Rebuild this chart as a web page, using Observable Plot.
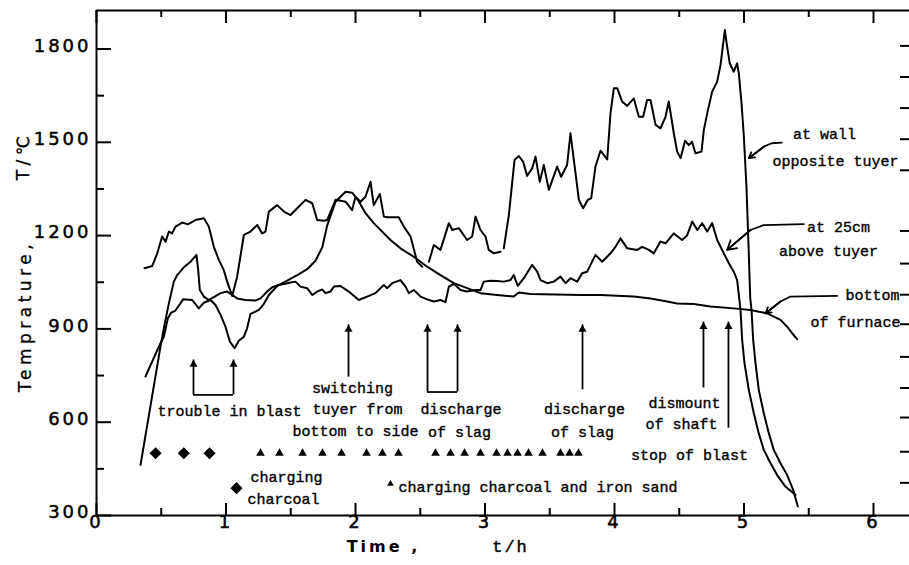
<!DOCTYPE html>
<html><head><meta charset="utf-8">
<script src="https://cdn.jsdelivr.net/npm/d3@7"></script>
<script src="https://cdn.jsdelivr.net/npm/@observablehq/plot@0.6"></script>
<style>
body{margin:0;background:#fff;}
svg{display:block}
</style>
</head><body><div id="chart"></div>
<script>
// Time (h), Temperature (°C)
const wallSeries = [[0.371,1095],[0.430,1102],[0.469,1143],[0.507,1197],[0.533,1180],[0.559,1213],[0.584,1207],[0.610,1229],[0.662,1242],[0.705,1236],[0.764,1250],[0.829,1256],[0.867,1229],[0.906,1164],[0.945,1122],[0.983,1089],[1.009,1052],[1.048,1006],[1.086,1068],[1.138,1202],[1.189,1213],[1.241,1234],[1.279,1207],[1.305,1213],[1.331,1277],[1.395,1298],[1.447,1277],[1.498,1266],[1.550,1288],[1.614,1315],[1.666,1304],[1.704,1250],[1.755,1248],[1.781,1250],[1.846,1315],[1.923,1309],[1.974,1282],[2.000,1325],[2.039,1309],[2.077,1325],[2.116,1373],[2.141,1298],[2.188,1334],[2.219,1261],[2.245,1259],[2.334,1259],[2.373,1229],[2.425,1197],[2.476,1116],[2.515,1100],[2.541,NaN],[2.567,1116],[2.605,1170],[2.656,1154],[2.721,1240],[2.747,1218],[2.798,1224],[2.862,1186],[2.901,1197],[2.927,1261],[2.965,1218],[3.004,1197],[3.029,1154],[3.068,1143],[3.120,1148],[3.132,NaN],[3.145,1159],[3.184,1266],[3.228,1443],[3.261,1456],[3.294,1438],[3.325,1392],[3.364,1416],[3.390,1454],[3.423,1373],[3.454,1427],[3.493,1347],[3.557,1422],[3.588,1389],[3.634,1427],[3.660,1529],[3.725,1315],[3.758,1288],[3.794,1315],[3.820,1320],[3.853,1422],[3.892,1473],[3.944,1445],[3.969,1593],[3.995,1674],[4.021,1674],[4.059,1631],[4.098,1617],[4.149,1641],[4.188,1582],[4.221,1582],[4.252,1636],[4.278,1636],[4.317,1556],[4.355,1545],[4.394,1582],[4.419,1631],[4.458,1529],[4.484,1470],[4.510,1449],[4.545,1505],[4.574,1491],[4.599,1502],[4.625,1465],[4.672,1470],[4.690,1540],[4.716,1593],[4.754,1663],[4.793,1695],[4.819,1749],[4.852,1861],[4.870,1807],[4.890,1754],[4.921,1727],[4.947,1754],[4.960,1722],[4.981,1625],[4.999,1518],[5.019,1357],[5.037,1143],[5.048,1000],[5.058,961],[5.071,864],[5.089,789],[5.114,704],[5.153,629],[5.192,564],[5.230,511],[5.282,468],[5.333,430],[5.380,382],[5.416,329]];

const tuyer25Series = [[0.340,463],[0.497,850],[0.525,913],[0.559,982],[0.597,1052],[0.623,1073],[0.674,1098],[0.726,1116],[0.772,1138],[0.785,1090],[0.798,1025],[0.829,1004],[0.867,993],[0.906,1002],[0.958,1015],[1.009,1020],[1.048,1009],[1.086,998],[1.151,993],[1.228,991],[1.266,998],[1.318,1020],[1.357,1034],[1.408,1041],[1.459,1045],[1.498,1049],[1.537,1052],[1.575,1036],[1.627,1031],[1.666,1009],[1.704,1020],[1.743,1027],[1.768,1015],[1.807,1020],[1.833,1036],[1.884,1038],[1.948,1020],[2.025,993],[2.090,1004],[2.154,1015],[2.219,1041],[2.245,1031],[2.283,1047],[2.347,1057],[2.386,1036],[2.412,1015],[2.450,1025],[2.502,1004],[2.553,995],[2.605,988],[2.656,993],[2.695,986],[2.721,1036],[2.759,1045],[2.811,1025],[2.862,1020],[2.927,1025],[2.965,1025],[2.991,1052],[3.042,1055],[3.094,1054],[3.145,1052],[3.197,1057],[3.222,1073],[3.253,1038],[3.300,1063],[3.364,1106],[3.403,1084],[3.429,1057],[3.480,1047],[3.531,1052],[3.583,1068],[3.622,1047],[3.660,1063],[3.712,1052],[3.750,1079],[3.789,1084],[3.853,1138],[3.905,1116],[3.969,1143],[4.008,1164],[4.046,1191],[4.098,1159],[4.175,1154],[4.214,1164],[4.265,1154],[4.304,1143],[4.355,1181],[4.394,1175],[4.458,1207],[4.522,1186],[4.560,1200],[4.600,1245],[4.640,1218],[4.677,1240],[4.716,1213],[4.754,1240],[4.793,1186],[4.844,1143],[4.883,1111],[4.921,1084],[4.947,1057],[4.973,961],[4.986,864],[5.004,789],[5.037,704],[5.076,629],[5.114,564],[5.153,511],[5.205,468],[5.256,430],[5.320,393],[5.398,366]];

const bottomSeries = [[0.378,747],[0.494,854],[0.520,875],[0.551,934],[0.576,952],[0.610,959],[0.669,995],[0.738,993],[0.790,966],[0.829,984],[0.880,993],[0.919,977],[0.958,945],[0.996,907],[1.030,859],[1.066,838],[1.099,862],[1.138,875],[1.163,902],[1.189,948],[1.254,961],[1.287,977],[1.331,1009],[1.395,1038],[1.473,1055],[1.550,1073],[1.627,1092],[1.691,1119],[1.743,1162],[1.781,1232],[1.846,1309],[1.884,1325],[1.923,1341],[1.974,1338],[2.018,1315],[2.077,1272],[2.141,1240],[2.270,1186],[2.347,1159],[2.450,1132],[2.553,1100],[2.656,1073],[2.759,1047],[2.862,1031],[2.965,1015],[3.094,1009],[3.222,1004],[3.261,1017],[3.351,1012],[3.737,1009],[3.892,1009],[4.149,1004],[4.278,998],[4.407,988],[4.484,982],[4.612,980],[4.741,972],[4.921,966],[5.050,961],[5.178,950],[5.282,929],[5.333,907],[5.372,886],[5.410,867]];

// charging markers
const charcoalTimes = [0.456, 0.674, 0.873];
const sandTimes = [1.266,1.413,1.591,1.745,1.892,2.085,2.208,2.332,2.618,2.734,2.842,2.965,3.089,3.174,3.251,3.336,3.444,3.583,3.653,3.722];
const markerTemp = 500;
const legendCharcoal = [[1.081, 388]];
const legendSand = [[2.270, 402]];

// event arrows: time, base temp, tip temp
const eventTimes = [0.749, 1.058, 1.946, 2.556, 2.788, 3.753, 4.687, 4.880];
const eventBase  = [688, 688, 745, 697, 697, 704, 710, 581];
const eventTip   = [800, 800, 913, 913, 913, 913, 922, 922];
const brackets = [[0.749, 1.058, 688], [2.556, 2.788, 697]];

// label pointers
const wallPointer = [[5.291,1499],[5.214,1497],[5.153,1486],[5.037,1449]];
const tuyer25Pointer = [[5.462,1237],[5.153,1234],[5.050,1218],[4.870,1154]];
const bottomPointer = [[5.719,1006],[5.359,1004],[5.282,988],[5.166,950]];

// texts
const notes = [
  ["trouble in blast", 1.027, 636],
  ["switching", 1.977, 710],
  ["tuyer from", 2.015, 642],
  ["bottom to side", 2.0, 571],
  ["discharge", 2.815, 642],
  ["of slag", 2.803, 568],
  ["discharge", 3.768, 642],
  ["of slag", 3.753, 568],
  ["dismount", 4.541, 662],
  ["of shaft", 4.517, 594],
  ["stop of blast", 4.579, 495],
  ["charging", 1.467, 424],
  ["charcoal", 1.444, 353],
  ["at wall", 5.622, 1527],
  ["opposite tuyer", 5.707, 1440],
  ["at 25cm", 5.730, 1228],
  ["above tuyer", 5.653, 1151],
  ["bottom", 5.992, 1009],
  ["of furnace", 5.861, 922]
];
const sandNote = [["charging charcoal and iron sand", 2.332, 392]];

const xTickValues = [0,1,2,3,4,5,6];
const xMinorTicks = [0.5,1.5,2.5,3.5,4.5,5.5];
const yTickValues = [300,600,900,1200,1500,1800];
const yMinorTicks = [450,750,1050,1350,1650];
const rightTicks = [1810,1710,1610,1510,1410,1215,1110,1010,915,810,710,615,505,405];

const rows = s => s.map(([time, temp]) => ({time, temp}));
const events = eventTimes.map((t, i) => ({time: t, base: eventBase[i], tip: eventTip[i]}));
const bracketRows = brackets.map(([x1, x2, y]) => ({x1, x2, y}));
const pointers = [wallPointer, tuyer25Pointer, bottomPointer];
const pointerRows = pointers.flatMap((p, k) => p.map(([time, temp]) => ({time, temp, k})));
const pointerHeads = pointers.map(p => ({x1: p[p.length-2][0], y1: p[p.length-2][1], x2: p[p.length-1][0], y2: p[p.length-1][1]}));
const noteRows = notes.map(([text, x, y]) => ({text, x, y}));

const FW = 813, FH = 505;
const yTop = 300 + FH / 0.311;
const annFont = "Liberation Mono";

const chart = Plot.plot({
  width: 909, height: 565,
  marginLeft: 96, marginRight: 0, marginTop: 10, marginBottom: 50,
  x: {domain: [0, FW / 129.5], axis: null},
  y: {domain: [300, yTop], axis: null},
  style: {background: "white", color: "black"},
  marks: [
    Plot.ruleX([0], {strokeWidth: 2}),
    Plot.ruleY([300], {strokeWidth: 2}),
    Plot.ruleY([yTop], {strokeWidth: 2}),
    Plot.tickX(xTickValues, {x: d => d, insetTop: FH - 12, strokeWidth: 2}),
    Plot.tickX(xMinorTicks, {x: d => d, insetTop: FH - 7, strokeWidth: 2}),
    Plot.tickX(xTickValues, {x: d => d, insetBottom: FH - 13, strokeWidth: 2}),
    Plot.tickX(xMinorTicks, {x: d => d, insetBottom: FH - 7, strokeWidth: 2}),
    Plot.tickY(yTickValues, {y: d => d, insetRight: FW - 15, strokeWidth: 2}),
    Plot.tickY(yMinorTicks, {y: d => d, insetRight: FW - 8, strokeWidth: 2}),
    Plot.tickY(rightTicks, {y: d => d, insetLeft: FW - 9, strokeWidth: 2}),
    Plot.text(xTickValues, {x: d => d, frameAnchor: "bottom", dy: 12, text: d => String(d), fontSize: 18, fontFamily: "DejaVu Sans"}),
    Plot.text(yTickValues, {y: d => d, frameAnchor: "left", dx: -5, dy: -3, textAnchor: "end", text: d => String(d), fontSize: 18, fontFamily: "DejaVu Sans"}),
    Plot.text(["Temprature,"], {frameAnchor: "left", dx: -71, dy: 53, rotate: -90, textAnchor: "middle", fontSize: 17, fontFamily: "DejaVu Sans"}),
    Plot.text(["T/℃"], {frameAnchor: "left", dx: -73, dy: -107, rotate: -90, textAnchor: "middle", fontSize: 17, fontFamily: "DejaVu Sans"}),
    Plot.text(["Time ,"], {x: 2.216, frameAnchor: "bottom", dy: 36, textAnchor: "middle", fontSize: 16, fontWeight: "bold", fontFamily: "DejaVu Sans"}),
    Plot.text(["t/h"], {x: 3.197, frameAnchor: "bottom", dy: 36, textAnchor: "middle", fontSize: 17, fontFamily: annFont}),
    Plot.line(rows(wallSeries), {x: "time", y: "temp", strokeWidth: 2}),
    Plot.line(rows(tuyer25Series), {x: "time", y: "temp", strokeWidth: 2}),
    Plot.line(rows(bottomSeries), {x: "time", y: "temp", strokeWidth: 2}),
    Plot.dot(charcoalTimes, {x: d => d, y: markerTemp, symbol: "diamond2", r: 4.5, fill: "black", stroke: "black"}),
    Plot.dot(legendCharcoal, {x: d => d[0], y: d => d[1], symbol: "diamond2", r: 4.5, fill: "black", stroke: "black"}),
    Plot.dot(sandTimes, {x: d => d, y: markerTemp, symbol: "triangle", r: 3.2, fill: "black"}),
    Plot.dot(legendSand, {x: d => d[0], y: d => d[1], symbol: "triangle", r: 2.5, fill: "black"}),
    Plot.ruleX(events, {x: "time", y1: "base", y2: "tip", strokeWidth: 1.8}),
    Plot.dot(events, {x: "time", y: "tip", symbol: "triangle", r: 3.0, fill: "black", dy: 4.5}),
    Plot.ruleY(bracketRows, {y: "y", x1: "x1", x2: "x2", strokeWidth: 1.8}),
    Plot.line(pointerRows, {x: "time", y: "temp", z: "k", strokeWidth: 1.8}),
    Plot.arrow(pointerHeads, {x1: "x1", y1: "y1", x2: "x2", y2: "y2", strokeWidth: 1.8, headLength: 10}),
    Plot.text(noteRows, {x: "x", y: "y", text: "text", fontSize: 15, fontFamily: annFont}),
    Plot.text(sandNote, {x: d => d[1], y: d => d[2], text: d => d[0], textAnchor: "start", fontSize: 15, fontFamily: annFont})
  ]
});
// typographic touch-ups (letter spacing / weight) to mimic the scanned figure
const sel = d3.select(chart);
sel.selectAll("text").each(function() {
  const t = this.textContent;
  const s = d3.select(this);
  if (/^\d+$/.test(t)) {
    s.attr("letter-spacing", "3").attr("stroke", "black").attr("stroke-width", 0.5);
  } else if (t === "Temprature," || t === "T/℃") {
    s.attr("letter-spacing", "4.5").attr("stroke", "black").attr("stroke-width", 0.3);
  } else if (t === "Time ,") {
    s.attr("letter-spacing", "3");
  } else if (t === "t/h") {
    s.attr("letter-spacing", "2").attr("stroke", "black").attr("stroke-width", 0.4);
  } else {
    s.attr("stroke", "black").attr("stroke-width", 0.35);
  }
});
document.getElementById("chart").append(chart);
</script></body></html>
